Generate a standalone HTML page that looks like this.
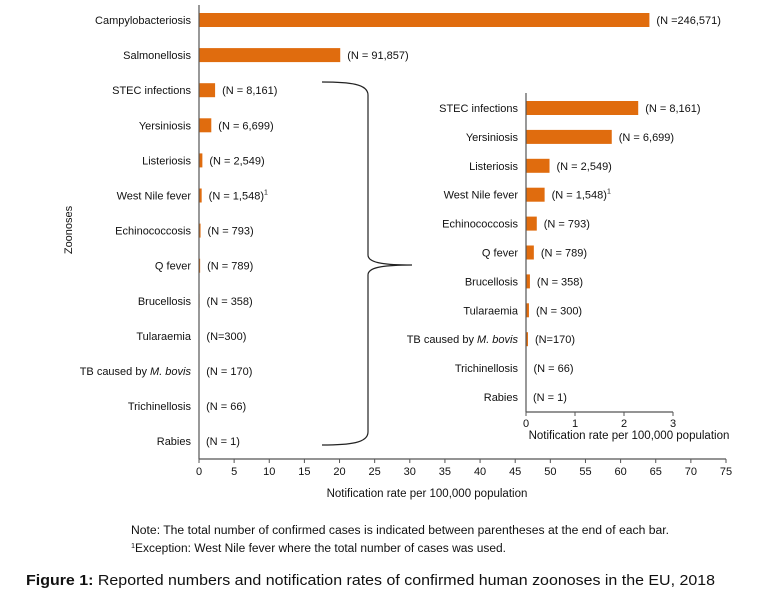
<!DOCTYPE html>
<html><head><meta charset="utf-8"><style>
html,body{margin:0;padding:0;background:#fff;}
svg{display:block;font-family:"Liberation Sans",Arial,sans-serif;}
</style></head><body>
<svg id="chart" width="773" height="591" viewBox="0 0 773 591">
<g id="main"></g>
<g id="inset"></g>
<path d="M322,82 C350,82 368,84 368,95 L368,255 C368,262 380,265 412,265 C380,265 368,268 368,275 L368,432 C368,443 350,445 322,445" fill="none" stroke="#222" stroke-width="1.2"/>
<text x="72" y="230" font-size="11" text-anchor="middle" transform="rotate(-90 72 230)" fill="#111">Zoonoses</text>
<text x="131" y="534" font-size="11.5" textLength="538" lengthAdjust="spacingAndGlyphs" fill="#111">Note: The total number of confirmed cases is indicated between parentheses at the end of each bar.</text>
<text x="131" y="552" font-size="11.5" textLength="375" lengthAdjust="spacingAndGlyphs" fill="#111"><tspan font-size="7" dy="-4">1</tspan><tspan dy="4">Exception: West Nile fever where the total number of cases was used.</tspan></text>
<text x="26" y="585" font-size="14.5" textLength="689" lengthAdjust="spacingAndGlyphs" fill="#111"><tspan font-weight="bold">Figure 1:</tspan> Reported numbers and notification rates of confirmed human zoonoses in the EU, 2018</text>
</svg>
<script>
const categories = ["Campylobacteriosis","Salmonellosis","STEC infections","Yersiniosis","Listeriosis","West Nile fever","Echinococcosis","Q fever","Brucellosis","Tularaemia","TB caused by M. bovis","Trichinellosis","Rabies"];
const rates = [64.1, 20.1, 2.29, 1.75, 0.48, 0.38, 0.22, 0.16, 0.08, 0.06, 0.04, 0.01, 0];
const caseLabels = ["(N =246,571)","(N = 91,857)","(N = 8,161)","(N = 6,699)","(N = 2,549)","(N = 1,548)","(N = 793)","(N = 789)","(N = 358)","(N=300)","(N = 170)","(N = 66)","(N = 1)"];
const mainTicks = [0,5,10,15,20,25,30,35,40,45,50,55,60,65,70,75];
const insetCategories = categories.slice(2);
const insetRates = rates.slice(2);
const insetLabels = ["(N = 8,161)","(N = 6,699)","(N = 2,549)","(N = 1,548)","(N = 793)","(N = 789)","(N = 358)","(N = 300)","(N=170)","(N = 66)","(N = 1)"];
const insetTicks = [0,1,2,3];

const NS="http://www.w3.org/2000/svg";
function mk(parent,tag,attrs,text){const e=document.createElementNS(NS,tag);for(const k in attrs)e.setAttribute(k,attrs[k]);if(text!==undefined)e.textContent=text;parent.appendChild(e);return e;}
function catText(parent,x,y,name){
  const t=mk(parent,'text',{x:x,y:y,'font-size':11,'text-anchor':'end',fill:'#111'});
  if(name.indexOf('M. bovis')>=0){mk(t,'tspan',{},'TB caused by ');mk(t,'tspan',{'font-style':'italic'},'M. bovis');}
  else t.textContent=name;
  return t;
}
function drawChart(g,cfg){
  const xs=v=>cfg.x0+(v-cfg.min)/(cfg.max-cfg.min)*(cfg.x1-cfg.x0);
  const ys=i=>cfg.yTop+i*cfg.step;
  cfg.cats.forEach((c,i)=>{
    const y=ys(i);
    const lab=catText(g,cfg.x0-8,y+4,c);
    
    
    const w=Math.max(0,xs(cfg.vals[i])-cfg.x0);
    const r=mk(g,'rect',{x:cfg.x0,y:y-cfg.bh/2,width:w,height:cfg.bh,fill:'#e06c0e'});
    
    
    const lx=Math.max(cfg.x0+w+7,cfg.x0+cfg.minLab);
    const t=mk(g,'text',{x:lx,y:y+4,'font-size':11,fill:'#111'});
    
    
    mk(t,'tspan',{},cfg.labs[i]);
    if(c==='West Nile fever'){mk(t,'tspan',{'font-size':7,dy:-5},'1');}
  });
  mk(g,'line',{x1:cfg.x0,y1:cfg.axTop,x2:cfg.x0,y2:cfg.axY,stroke:'#555','stroke-width':1.2});
  mk(g,'line',{x1:cfg.x0,y1:cfg.axY,x2:cfg.x1,y2:cfg.axY,stroke:'#555','stroke-width':1.2});
  cfg.ticks.forEach(v=>{
    mk(g,'line',{x1:xs(v),y1:cfg.axY,x2:xs(v),y2:cfg.axY+4,stroke:'#555'});
    const t=mk(g,'text',{x:xs(v),y:cfg.axY+cfg.tickOff,'font-size':11,'text-anchor':'middle',fill:'#111'},String(v));
    
    
  });
  const tt=mk(g,'text',{x:cfg.titleX,y:cfg.titleY,'font-size':11.5,'text-anchor':'middle',fill:'#111'},'Notification rate per 100,000 population');
  
  
}
drawChart(document.getElementById('main'),{cats:categories,vals:rates,labs:caseLabels,ticks:mainTicks,min:0,max:75,x0:199,x1:726,yTop:20,step:35.1,bh:14,axTop:5,axY:459,minLab:6,tickOff:16,titleX:427,titleY:497});
drawChart(document.getElementById('inset'),{cats:insetCategories,vals:insetRates,labs:insetLabels,ticks:insetTicks,min:0,max:3,x0:526,x1:673,yTop:108,step:28.9,bh:14,axTop:93,axY:412,minLab:6,tickOff:15,titleX:629,titleY:439});
</script>
</body></html>
